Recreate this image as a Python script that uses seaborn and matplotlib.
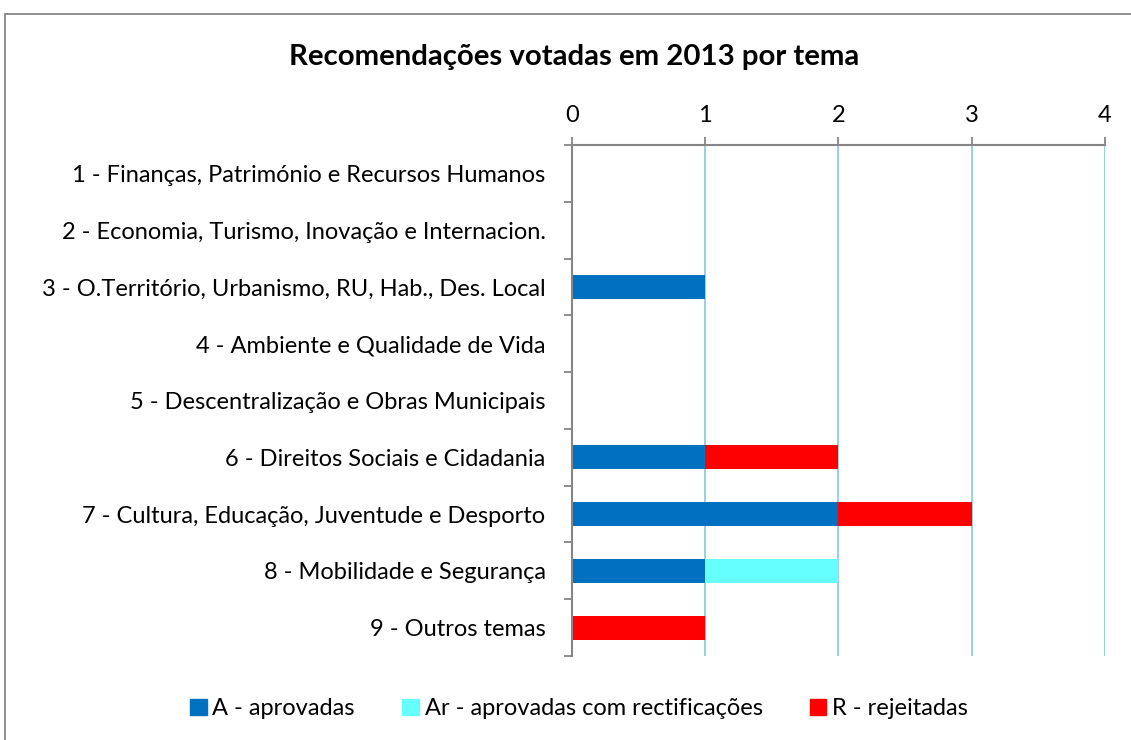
import matplotlib
matplotlib.use("Agg")
import matplotlib.pyplot as plt
import matplotlib.patches as mpatches
import seaborn as sns
import pandas as pd

temas = [
    "1 - Finanças, Património e Recursos Humanos",
    "2 - Economia, Turismo, Inovação e Internacion.",
    "3 - O.Território, Urbanismo, RU, Hab., Des. Local",
    "4 - Ambiente e Qualidade de Vida",
    "5 - Descentralização e Obras Municipais",
    "6 - Direitos Sociais e Cidadania",
    "7 - Cultura, Educação, Juventude e Desporto",
    "8 - Mobilidade e Segurança",
    "9 - Outros temas",
]
aprovadas = [0, 0, 1, 0, 0, 1, 2, 1, 0]
aprovadas_rect = [0, 0, 0, 0, 0, 0, 0, 1, 0]
rejeitadas = [0, 0, 0, 0, 0, 1, 1, 0, 1]

series_labels = ["A - aprovadas", "Ar - aprovadas com rectificações", "R - rejeitadas"]
series_colors = ["#0070C0", "#66FFFF", "#FF0000"]

df = pd.DataFrame({"tema": temas, "A": aprovadas, "Ar": aprovadas_rect, "R": rejeitadas})
df["A_Ar"] = df["A"] + df["Ar"]
df["total"] = df["A_Ar"] + df["R"]

sns.set_style("white")
plt.rcParams["font.family"] = ["Lato", "DejaVu Sans"]
plt.rcParams["text.color"] = "black"
plt.rcParams["xtick.color"] = "black"
plt.rcParams["ytick.color"] = "black"

fig = plt.figure(figsize=(11.31, 7.40), dpi=100)
ax = fig.add_axes([0.5057, 0.1135, 0.4713, 0.6905])

# stacked bars drawn back to front
sns.barplot(data=df, y="tema", x="total", color=series_colors[2], width=0.42,
            orient="h", ax=ax, saturation=1, zorder=3, linewidth=0)
sns.barplot(data=df, y="tema", x="A_Ar", color=series_colors[1], width=0.42,
            orient="h", ax=ax, saturation=1, zorder=3, linewidth=0)
sns.barplot(data=df, y="tema", x="A", color=series_colors[0], width=0.42,
            orient="h", ax=ax, saturation=1, zorder=3, linewidth=0)

ax.set_xlim(0, 4)
ax.set_ylim(len(temas) - 0.5, -0.5)
ax.set_xticks([0, 1, 2, 3, 4])
ax.xaxis.tick_top()
ax.set_xlabel("")
ax.set_ylabel("")

for v in [1, 2, 3, 4]:
    ax.axvline(v, color="#8CCFE0", lw=1.3, zorder=1)

for s in ["right", "bottom"]:
    ax.spines[s].set_visible(False)
for s in ["top", "left"]:
    ax.spines[s].set_color("#868686")
    ax.spines[s].set_linewidth(1.5)
    ax.spines[s].set_zorder(4)

ax.set_yticks([i for i in range(len(temas))])
ax.set_yticklabels(temas, fontsize=17, color="black")
ax.tick_params(axis="y", which="major", left=False, length=0, pad=19)
ax.set_yticks([i - 0.5 for i in range(len(temas) + 1)], minor=True)
ax.tick_params(axis="y", which="minor", left=True, length=6, color="#868686", width=1.3)
ax.tick_params(axis="x", top=True, length=6, color="#868686", width=1.3,
               labelsize=17, labelcolor="black", pad=8)

fig.text(0.508, 0.923, "Recomendações votadas em 2013 por tema",
         ha="center", va="center", fontsize=21.2, fontweight="bold", color="black")

handles = [mpatches.Patch(color=c, label=l) for c, l in zip(series_colors, series_labels)]
fig.legend(handles=handles, loc="center", bbox_to_anchor=(0.512, 0.042), ncol=3,
           frameon=False, fontsize=17, handlelength=0.7, handleheight=0.7,
           handletextpad=0.25, columnspacing=2.0, labelcolor="black")

fig.patches.append(mpatches.Rectangle((0.004, -0.1), 1.2, 1.081, transform=fig.transFigure,
                                      fill=False, edgecolor="#868686", lw=1.3))

fig.savefig("out.png", dpi=100)
